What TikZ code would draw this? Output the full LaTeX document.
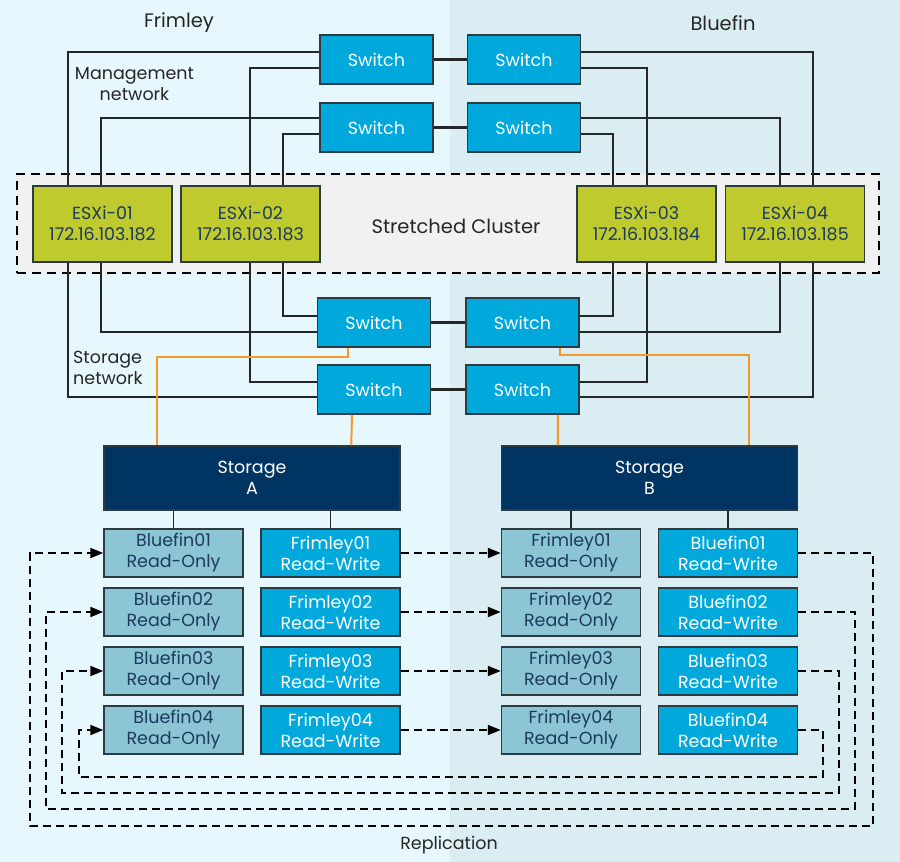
\documentclass[tikz,border=0pt]{standalone}
\usepackage{fontspec}
\setmainfont{Poppins}
\usetikzlibrary{arrows.meta,calc}
\definecolor{bgL}{HTML}{E6F8FE}
\definecolor{bgR}{HTML}{DAEDF3}
\definecolor{swc}{HTML}{00A8DC}
\definecolor{roc}{HTML}{8CC6D4}
\definecolor{esc}{HTML}{BFCA2F}
\definecolor{stc}{HTML}{003462}
\definecolor{dtxt}{HTML}{1C3A5E}
\definecolor{bordc}{HTML}{2B3B41}
\definecolor{orc}{HTML}{F39A2B}
\definecolor{clc}{HTML}{F1F1F1}
\tikzset{
  basebox/.style={draw=bordc, line width=1.5pt, inner sep=0pt, align=center},
  sw/.style={basebox, fill=swc, text=white, minimum width=113pt, minimum height=49pt},
  esx/.style={basebox, fill=esc, text=dtxt, minimum width=139pt, minimum height=76pt},
  stor/.style={basebox, fill=stc, text=white, minimum width=296pt, minimum height=64pt},
  ro/.style={basebox, fill=roc, text=dtxt, minimum width=139pt, minimum height=48pt},
  rw/.style={basebox, fill=swc, text=white, minimum width=139pt, minimum height=48pt},
  lbl/.style={inner sep=0pt, align=center, text=black!85},
  big/.style={font=\fontsize{19.5}{23}\selectfont},
  conn/.style={draw=black!85, line width=1.8pt},
  orl/.style={draw=orc, line width=2pt},
  rep/.style={draw=black, dash pattern=on 8pt off 5pt, line width=2pt},
  arr/.style={-{Triangle[length=13pt,width=10pt]}}
}
\begin{document}
\begin{tikzpicture}[x=1pt,y=-1pt,font=\fontsize{17.5}{21}\selectfont]
\useasboundingbox (0,0) rectangle (900,862);
\fill[bgL] (0,0) rectangle (450,862);
\fill[bgR] (450,0) rectangle (900,862);

% cluster
\node[draw=black, fill=clc, dash pattern=on 9pt off 6pt, line width=1.6pt, minimum width=862pt, minimum height=99pt, inner sep=0pt] (cluster) at (448,223.5) {};
\node[lbl, big] (cltxt) at (456,226) {Stretched Cluster};

% labels
\node[lbl, big] (frim) at (179,23) {Frimley};
\node[lbl, big] (blue) at (723,23) {Bluefin};
\node[lbl] (mgmt) at (134.5,84) {Management\\network};
\node[lbl, align=left, anchor=west] (stnet) at (73,367.5) {Storage\\network};
\node[lbl] (repl) at (449,845) {Replication};

% top switches
\node[sw] (swTL1) at (376.5,59.5) {Switch};
\node[sw] (swTR1) at (524,59.5) {Switch};
\node[sw] (swTL2) at (376.5,127.5) {Switch};
\node[sw] (swTR2) at (524,127.5) {Switch};

% ESXi hosts
\node[esx] (e1) at (102.5,224) {ESXi-01\\172.16.103.182};
\node[esx] (e2) at (250.5,224) {ESXi-02\\172.16.103.183};
\node[esx] (e3) at (646.5,224) {ESXi-03\\172.16.103.184};
\node[esx] (e4) at (795,224) {ESXi-04\\172.16.103.185};

% storage switches
\node[sw] (sbL1) at (374,322.5) {Switch};
\node[sw] (sbR1) at (522.5,322.5) {Switch};
\node[sw] (sbL2) at (374,389.5) {Switch};
\node[sw] (sbR2) at (522.5,389.5) {Switch};

% storage arrays
\node[stor] (stA) at (252,478) {Storage\\A};
\node[stor] (stB) at (649.5,478) {Storage\\B};

% datastores
\foreach \i/\y in {1/553,2/612,3/671,4/730}{
  \node[ro] (a\i) at (173.5,\y) {Bluefin0\i\\Read-Only};
  \node[rw] (b\i) at (330.5,\y) {Frimley0\i\\Read-Write};
  \node[ro] (c\i) at (571,\y) {Frimley0\i\\Read-Only};
  \node[rw] (d\i) at (728,\y) {Bluefin0\i\\Read-Write};
}

% switch interlinks
\draw[conn, line width=2.2pt] (swTL1) -- (swTR1);
\draw[conn, line width=2.2pt] (swTL2) -- (swTR2);
\draw[conn, line width=2.2pt] (sbL1) -- (sbR1);
\draw[conn, line width=2.2pt] (sbL2) -- (sbR2);

% management network
\draw[conn] ($(swTL1.west)+(0,-7.5)$) -| ($(e1.north west)+(35.5,0)$);
\draw[conn] ($(swTL1.west)+(0,8.5)$) -| ($(e2.north west)+(70,0)$);
\draw[conn] ($(swTL2.west)+(0,-9.5)$) -| ($(e1.north west)+(68.5,0)$);
\draw[conn] ($(swTL2.west)+(0,6.5)$) -| ($(e2.north west)+(103,0)$);
\draw[conn] ($(swTR1.east)+(0,-7.5)$) -| ($(e4.north west)+(88,0)$);
\draw[conn] ($(swTR1.east)+(0,8.5)$) -| ($(e3.north west)+(71,0)$);
\draw[conn] ($(swTR2.east)+(0,-9.5)$) -| ($(e4.north west)+(55,0)$);
\draw[conn] ($(swTR2.east)+(0,6.5)$) -| ($(e3.north west)+(37,0)$);

% storage network
\draw[conn] ($(e1.south west)+(35.5,0)$) |- ($(sbL2.west)+(0,7.5)$);
\draw[conn] ($(e1.south west)+(68.5,0)$) |- ($(sbL1.west)+(0,9.5)$);
\draw[conn] ($(e2.south west)+(70,0)$) |- ($(sbL2.west)+(0,-7.5)$);
\draw[conn] ($(e2.south west)+(103,0)$) |- ($(sbL1.west)+(0,-6.5)$);
\draw[conn] ($(e3.south west)+(37,0)$) |- ($(sbR1.east)+(0,-6.5)$);
\draw[conn] ($(e3.south west)+(71,0)$) |- ($(sbR2.east)+(0,-7.5)$);
\draw[conn] ($(e4.south west)+(55,0)$) |- ($(sbR1.east)+(0,9.5)$);
\draw[conn] ($(e4.south west)+(88,0)$) |- ($(sbR2.east)+(0,7.5)$);

% orange links to storage
\draw[orl] ($(sbL1.south)+(-26,0)$) -- ++(0,9) -| ($(stA.north west)+(54,0)$);
\draw[orl] ($(sbL2.south)+(-22,0)$) -- ($(stA.north west)+(248,0)$);
\draw[orl] ($(sbR1.south)+(37.5,0)$) -- ++(0,7) -| ($(stB.north west)+(248,0)$);
\draw[orl] ($(sbR2.south)+(35.5,0)$) -- ($(stB.north west)+(57,0)$);

% storage to datastores
\draw[conn] (a1.north) -- (a1.north |- stA.south);
\draw[conn] (b1.north) -- (b1.north |- stA.south);
\draw[conn] (c1.north) -- (c1.north |- stB.south);
\draw[conn] (d1.north) -- (d1.north |- stB.south);

% replication
\foreach \i in {1,2,3,4}{
  \draw[rep, arr] (b\i.east) -- (c\i.west);
}
\coordinate (r1) at (873,826); \coordinate (l1) at (30,826);
\coordinate (r2) at (855,809); \coordinate (l2) at (46,809);
\coordinate (r3) at (839,793); \coordinate (l3) at (62,793);
\coordinate (r4) at (823,777); \coordinate (l4) at (79,777);
\foreach \i in {1,2,3,4}{
  \draw[rep, arr] (d\i.east) -| (r\i) -- (l\i) |- (a\i.west);
}
\end{tikzpicture}
\end{document}
